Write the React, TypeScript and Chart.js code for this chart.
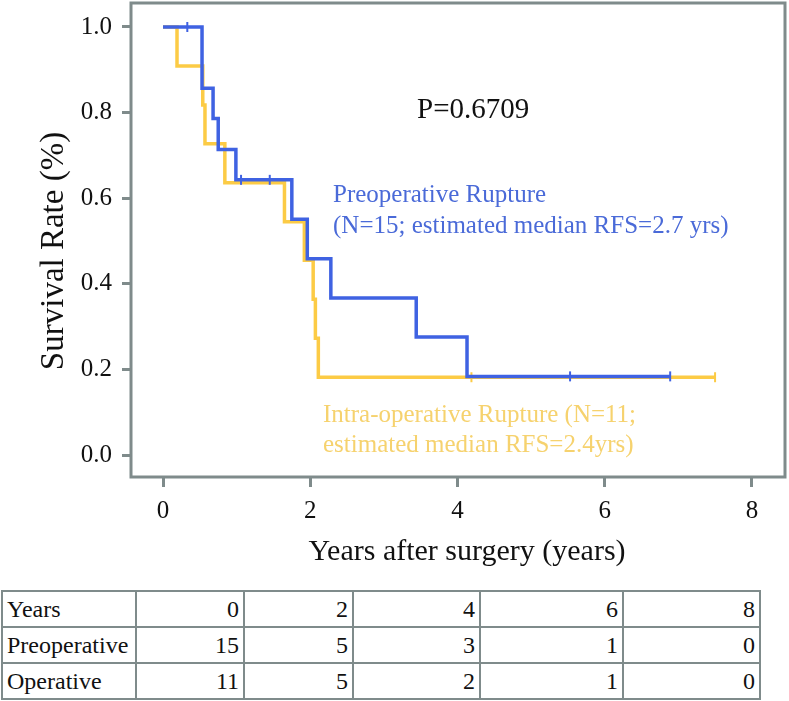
import React, { useEffect, useRef } from "react";
import { Chart, registerables } from "chart.js";

Chart.register(...registerables);

// Kaplan-Meier step data (years, survival)
const preTimes = [0, 0.53, 0.68, 0.75, 0.99, 1.75, 1.96, 2.28, 3.44, 4.13, 6.89];
const preSurvival = [1.0, 0.857, 0.786, 0.714, 0.643, 0.551, 0.459, 0.367, 0.276, 0.184, 0.184];
const preCensorTimes = [0.33, 1.06, 1.45, 5.53, 6.89];
const preCensorSurvival = [1.0, 0.643, 0.643, 0.184, 0.184];

const intraTimes = [0, 0.19, 0.54, 0.57, 0.84, 1.65, 1.92, 2.04, 2.07, 2.11, 7.5];
const intraSurvival = [1.0, 0.909, 0.818, 0.727, 0.636, 0.545, 0.455, 0.364, 0.273, 0.182, 0.182];
const intraCensorTimes = [4.19, 7.5];
const intraCensorSurvival = [0.182, 0.182];

const xTicks = [0, 2, 4, 6, 8];
const yTicks = [0, 0.2, 0.4, 0.6, 0.8, 1.0];

// Number at risk table
const riskYears = [0, 2, 4, 6, 8];
const riskPreoperative = [15, 5, 3, 1, 0];
const riskOperative = [11, 5, 2, 1, 0];

const BLUE = "#3f62e2";
const BLUE_TEXT = "#4a6ad8";
const YELLOW = "#fccb45";
const YELLOW_TEXT = "#f6d26e";
const FRAME = "#7f8b8b";
const FONT = "'Liberation Serif', 'Times New Roman', serif";

const toPoints = (xs: number[], ys: number[]) => xs.map((x, i) => ({ x, y: ys[i] }));

const framePlugin = {
  id: "frameAndText",
  beforeDatasetsDraw(chart: any) {
    const { ctx, chartArea } = chart;
    ctx.save();
    ctx.strokeStyle = FRAME;
    ctx.lineWidth = 3;
    ctx.strokeRect(chartArea.left, chartArea.top, chartArea.right - chartArea.left, chartArea.bottom - chartArea.top);
    ctx.restore();
  },
  afterDraw(chart: any) {
    const { ctx } = chart;
    ctx.save();
    ctx.textBaseline = "alphabetic";
    ctx.textAlign = "left";
    ctx.fillStyle = "#111";
    ctx.font = `29px ${FONT}`;
    ctx.fillText("P=0.6709", 417, 118);

    ctx.font = `25px ${FONT}`;
    ctx.fillStyle = BLUE_TEXT;
    ctx.fillText("Preoperative Rupture", 333, 202);
    ctx.fillText("(N=15; estimated median RFS=2.7 yrs)", 333, 233);

    ctx.fillStyle = YELLOW_TEXT;
    ctx.fillText("Intra-operative Rupture (N=11;", 323, 422);
    ctx.fillText("estimated median RFS=2.4yrs)", 323, 452);

    // axis titles
    ctx.fillStyle = "#111";
    ctx.font = `30px ${FONT}`;
    ctx.textAlign = "center";
    ctx.fillText("Years after surgery (years)", 467, 560);

    ctx.font = `33px ${FONT}`;
    ctx.translate(63, 251);
    ctx.rotate(-Math.PI / 2);
    ctx.fillText("Survival Rate (%)", 0, 0);
    ctx.restore();
  },
};

function KMChart() {
  const ref = useRef<HTMLCanvasElement | null>(null);
  useEffect(() => {
    if (!ref.current) return;
    const chart = new Chart(ref.current, {
      type: "line",
      data: {
        datasets: [
          {
            label: "Preoperative censored",
            data: toPoints(preCensorTimes, preCensorSurvival),
            showLine: false,
            pointStyle: "line",
            rotation: 90,
            pointRadius: 5,
            pointBorderWidth: 2,
            borderColor: BLUE,
            backgroundColor: BLUE,
          } as any,
          {
            label: "Preoperative Rupture",
            data: toPoints(preTimes, preSurvival),
            stepped: "before",
            borderColor: BLUE,
            borderWidth: 3.5,
            pointRadius: 0,
            fill: false,
          },
          {
            label: "Intra-operative censored",
            data: toPoints(intraCensorTimes, intraCensorSurvival),
            showLine: false,
            pointStyle: "line",
            rotation: 90,
            pointRadius: 5,
            pointBorderWidth: 2,
            borderColor: YELLOW,
            backgroundColor: YELLOW,
          } as any,
          {
            label: "Intra-operative Rupture",
            data: toPoints(intraTimes, intraSurvival),
            stepped: "before",
            borderColor: YELLOW,
            borderWidth: 3.5,
            pointRadius: 0,
            fill: false,
          },
        ],
      },
      options: {
        animation: false,
        responsive: false,
        devicePixelRatio: 1,
        layout: { autoPadding: false, padding: { left: 0, right: 4, top: 3, bottom: 0 } },
        plugins: { legend: { display: false }, tooltip: { enabled: false }, title: { display: false } },
        scales: {
          x: {
            type: "linear",
            min: -0.435,
            max: 8.45,
            border: { display: false },
            grid: {
              drawOnChartArea: false,
              drawTicks: true,
              tickLength: 10,
              tickWidth: 3,
              tickColor: FRAME,
            },
            ticks: {
              padding: 9,
              color: "#111",
              font: { family: FONT, size: 25 },
              maxRotation: 0,
              callback: (v: any) => String(v),
            },
            afterBuildTicks: (s: any) => {
              s.ticks = xTicks.map((v) => ({ value: v }));
            },
            afterFit: (s: any) => {
              s.height = 103;
              s.paddingLeft = 0;
              s.paddingRight = 0;
              s.paddingTop = 0;
              s.paddingBottom = 0;
            },
          },
          y: {
            type: "linear",
            min: -0.051,
            max: 1.056,
            border: { display: false },
            grid: {
              drawOnChartArea: false,
              drawTicks: true,
              tickLength: 9,
              tickWidth: 3,
              tickColor: FRAME,
            },
            ticks: {
              padding: 10,
              color: "#111",
              font: { family: FONT, size: 25 },
              callback: (v: any) => Number(v).toFixed(1),
            },
            afterBuildTicks: (s: any) => {
              s.ticks = yTicks.map((v) => ({ value: v }));
            },
            afterFit: (s: any) => {
              s.width = 131;
              s.paddingLeft = 0;
              s.paddingRight = 0;
              s.paddingTop = 0;
              s.paddingBottom = 0;
            },
          },
        },
      },
      plugins: [framePlugin],
    });
    return () => chart.destroy();
  }, []);
  return <canvas ref={ref} width={789} height={580} style={{ display: "block", width: 789, height: 580 }} />;
}

const colWidths = [134, 108, 109, 127, 143, 137];
const cellBorder = `2px solid ${FRAME}`;

function RiskTable() {
  const rows: [string, number[]][] = [
    ["Years", riskYears],
    ["Preoperative", riskPreoperative],
    ["Operative", riskOperative],
  ];
  return (
    <table
      style={{
        position: "absolute",
        left: 1,
        top: 590,
        borderCollapse: "collapse",
        tableLayout: "fixed",
        width: colWidths.reduce((a, b) => a + b, 0),
        fontFamily: FONT,
        fontSize: 24,
        color: "#111",
      }}
    >
      <colgroup>
        {colWidths.map((w, i) => (
          <col key={i} style={{ width: w }} />
        ))}
      </colgroup>
      <tbody>
        {rows.map(([name, vals]) => (
          <tr key={name} style={{ height: 36 }}>
            <td style={{ border: cellBorder, padding: "0 4px", textAlign: "left", whiteSpace: "nowrap" }}>{name}</td>
            {vals.map((v, i) => (
              <td key={i} style={{ border: cellBorder, padding: "0 4px", textAlign: "right" }}>
                {v}
              </td>
            ))}
          </tr>
        ))}
      </tbody>
    </table>
  );
}

export default function App() {
  return (
    <div style={{ position: "absolute", left: 0, top: 0, width: 789, height: 701, background: "#fff" }}>
      <KMChart />
      <RiskTable />
    </div>
  );
}
